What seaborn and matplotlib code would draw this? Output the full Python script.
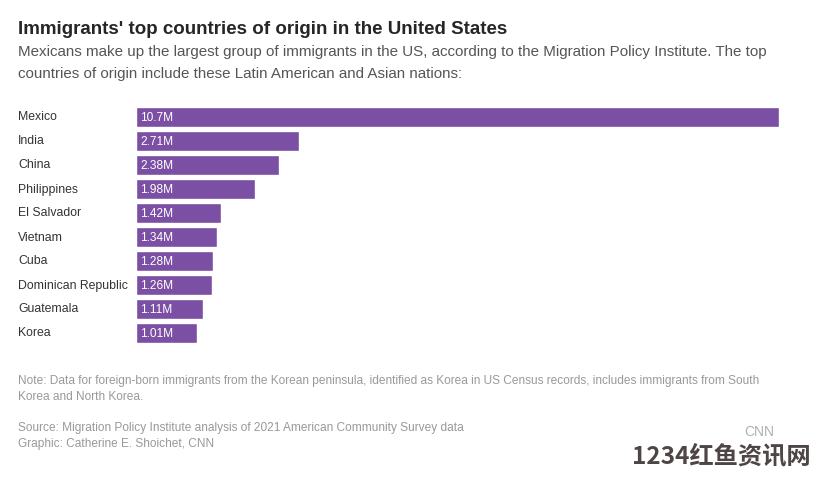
import pandas as pd
import numpy as np
import matplotlib.pyplot as plt
import seaborn as sns

countries = ["Mexico", "India", "China", "Philippines", "El Salvador", "Vietnam",
             "Cuba", "Dominican Republic", "Guatemala", "Korea"]
immigrants_m = [10.7, 2.71, 2.38, 1.98, 1.42, 1.34, 1.28, 1.26, 1.11, 1.01]
value_labels = ["10.7M", "2.71M", "2.38M", "1.98M", "1.42M", "1.34M",
                "1.28M", "1.26M", "1.11M", "1.01M"]

df = pd.DataFrame({"country": countries, "immigrants": immigrants_m})

sns.set_style("white")
plt.rcParams["font.family"] = ["Liberation Sans", "DejaVu Sans"]

W, H = 814, 478
fig = plt.figure(figsize=(W / 100, H / 100), dpi=100)
fig.patch.set_facecolor("white")

# axes placed in pixel terms: bars run from x=136 to x=779, rows 105..345
ax = fig.add_axes([136 / W, (H - 345) / H, 643 / W, 240 / H])
sns.barplot(data=df, y="country", x="immigrants", orient="h",
            color="#7b4fa3", saturation=1, width=20 / 24, ax=ax)
ax.set_xlim(0, 10.7)
ax.set_ylim(9.5, -0.5)
ax.set_xlabel("")
ax.set_ylabel("")
ax.set_xticks([])
ax.set_yticks([])
sns.despine(ax=ax, left=True, bottom=True)

for i, (name, lab) in enumerate(zip(countries, value_labels)):
    ax.text(0.07, i + 0.03, lab, color="white", fontsize=8.6, va="center", ha="left")
    fig.text(18 / W, 1 - (117.5 + 24 * i) / H, name, color="#333333",
             fontsize=8.8, va="center", ha="left")

# header
fig.text(18 / W, 1 - 30 / H, "Immigrants' top countries of origin in the United States",
         fontsize=13.5, fontweight="bold", color="#262626", va="center")
fig.text(18 / W, 1 - 52 / H,
         "Mexicans make up the largest group of immigrants in the US, according to the Migration Policy Institute. The top",
         fontsize=10.9, color="#555555", va="center")
fig.text(18 / W, 1 - 74 / H,
         "countries of origin include these Latin American and Asian nations:",
         fontsize=10.9, color="#555555", va="center")

# footer
grey = "#999999"
fig.text(18 / W, 1 - 381 / H,
         "Note: Data for foreign-born immigrants from the Korean peninsula, identified as Korea in US Census records, includes immigrants from South",
         fontsize=8.6, color=grey, va="center")
fig.text(18 / W, 1 - 397 / H, "Korea and North Korea.", fontsize=8.6, color=grey, va="center")
fig.text(18 / W, 1 - 428 / H,
         "Source: Migration Policy Institute analysis of 2021 American Community Survey data",
         fontsize=8.6, color=grey, va="center")
fig.text(18 / W, 1 - 444 / H, "Graphic: Catherine E. Shoichet, CNN",
         fontsize=8.6, color=grey, va="center")

# watermark
fig.text(759 / W, 1 - 432 / H, "CNN", fontsize=10, color="#b0b0b0", ha="center", va="center")
fig.text(811 / W, 1 - 456 / H, "1234红鱼资讯网", fontsize=17.5, fontweight="bold",
         color="#3b3131", alpha=0.9, ha="right", va="center",
         family=["Noto Sans CJK SC", "DejaVu Sans"])

fig.savefig("out.png", dpi=100, facecolor="white")
